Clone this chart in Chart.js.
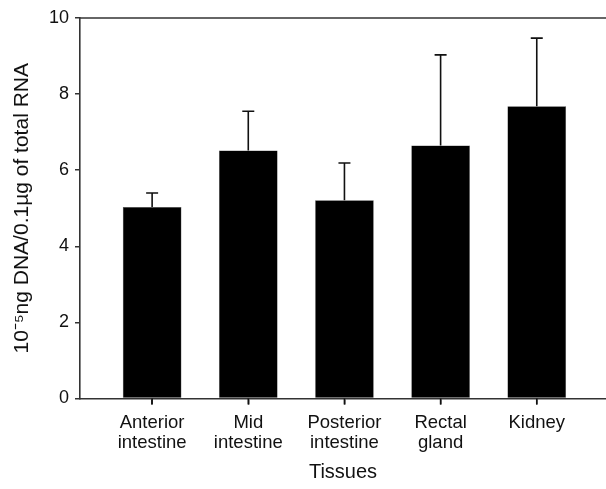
<!DOCTYPE html>
<html>
<head>
<meta charset="utf-8">
<script src="https://cdn.jsdelivr.net/npm/chart.js@4"></script>
<style>
  html, body { margin: 0; padding: 0; background: #fff; }
  #wrap { width: 606px; height: 489px; position: relative; }
</style>
</head>
<body>
<div id="wrap"><canvas id="tissueChart"></canvas></div>
<script>
// values
const tissues = [["Anterior", "intestine"], ["Mid", "intestine"], ["Posterior", "intestine"], ["Rectal", "gland"], ["Kidney"]];
const dnaMeans = [5.03, 6.52, 5.21, 6.65, 7.68];
const dnaErrors = [0.37, 1.03, 0.98, 2.38, 1.79];
const yTicks = [0, 2, 4, 6, 8, 10];

// upper error bars, category tick marks, top frame line
const errorBarPlugin = {
  id: "errorBars",
  afterDatasetsDraw(chart) {
    const ctx = chart.ctx;
    const xs = chart.scales.x;
    const ys = chart.scales.y;
    const a = chart.chartArea;
    ctx.save();
    ctx.strokeStyle = "#111";
    ctx.lineWidth = 1.6;
    dnaMeans.forEach((m, i) => {
      const x = xs.getPixelForValue(i);
      const y0 = ys.getPixelForValue(m);
      const y1 = ys.getPixelForValue(m + dnaErrors[i]);
      ctx.beginPath();
      ctx.moveTo(x, y0);
      ctx.lineTo(x, y1);
      ctx.moveTo(x - 6, y1);
      ctx.lineTo(x + 6, y1);
      // small tick under the axis
      ctx.moveTo(x, a.bottom);
      ctx.lineTo(x, a.bottom + 6);
      ctx.stroke();
    });
    ctx.strokeStyle = "#333";
    ctx.beginPath();
    ctx.moveTo(a.left, a.top);
    ctx.lineTo(a.right, a.top);
    ctx.stroke();
    ctx.restore();
  },
};

const ctx = document.getElementById("tissueChart").getContext("2d");
new Chart(ctx, {
  type: "bar",
  data: {
    datasets: [
      {
        data: dnaMeans.map((v, i) => ({ x: i, y: v })),
        backgroundColor: "#000",
        borderColor: "#444",
        borderWidth: 0.5,
        categoryPercentage: 1,
        barPercentage: 0.61,
      },
    ],
  },
  options: {
    responsive: true,
    maintainAspectRatio: false,
    animation: false,
    layout: { padding: { top: 18, right: 0, bottom: 0, left: 0 } },
    plugins: { legend: { display: false }, tooltip: { enabled: false } },
    scales: {
      x: {
        type: "linear",
        offset: false,
        min: -0.75,
        max: 4.72,
        afterBuildTicks: (scale) => {
          scale.ticks = tissues.map((t, i) => ({ value: i }));
        },
        afterFit: (scale) => {
          scale.height = 90.5;
        },
        ticks: {
          autoSkip: false,
          maxRotation: 0,
          color: "#111",
          padding: 8,
          font: { family: "Liberation Sans", size: 18.5, lineHeight: 1.1 },
          callback: (value) => tissues[value],
        },
        grid: { offset: false, drawOnChartArea: false, drawTicks: true, tickLength: 6, color: "#333", lineWidth: 1.5 },
        border: { color: "#333", width: 1.6 },
        title: {
          display: true,
          text: "Tissues",
          color: "#111",
          font: { family: "Liberation Sans", size: 20 },
          padding: { top: 5, bottom: 5 },
        },
      },
      y: {
        min: 0,
        max: 10,
        afterBuildTicks: (scale) => {
          scale.ticks = yTicks.map((v) => ({ value: v }));
        },
        afterFit: (scale) => {
          scale.width = 80;
        },
        ticks: {
          color: "#111",
          padding: 6,
          font: { family: "Liberation Sans", size: 18 },
        },
        grid: { drawOnChartArea: false, drawTicks: true, tickLength: 5, color: "#333", lineWidth: 1.5 },
        border: { color: "#333", width: 1.6 },
        title: {
          display: true,
          text: "10\u207B\u2075ng DNA/0.1\u00B5g of total RNA",
          color: "#111",
          font: { family: "Liberation Sans", size: 21 },
          padding: { top: 10, bottom: 10 },
        },
      },
    },
  },
  plugins: [errorBarPlugin],
});
</script>
</body>
</html>
